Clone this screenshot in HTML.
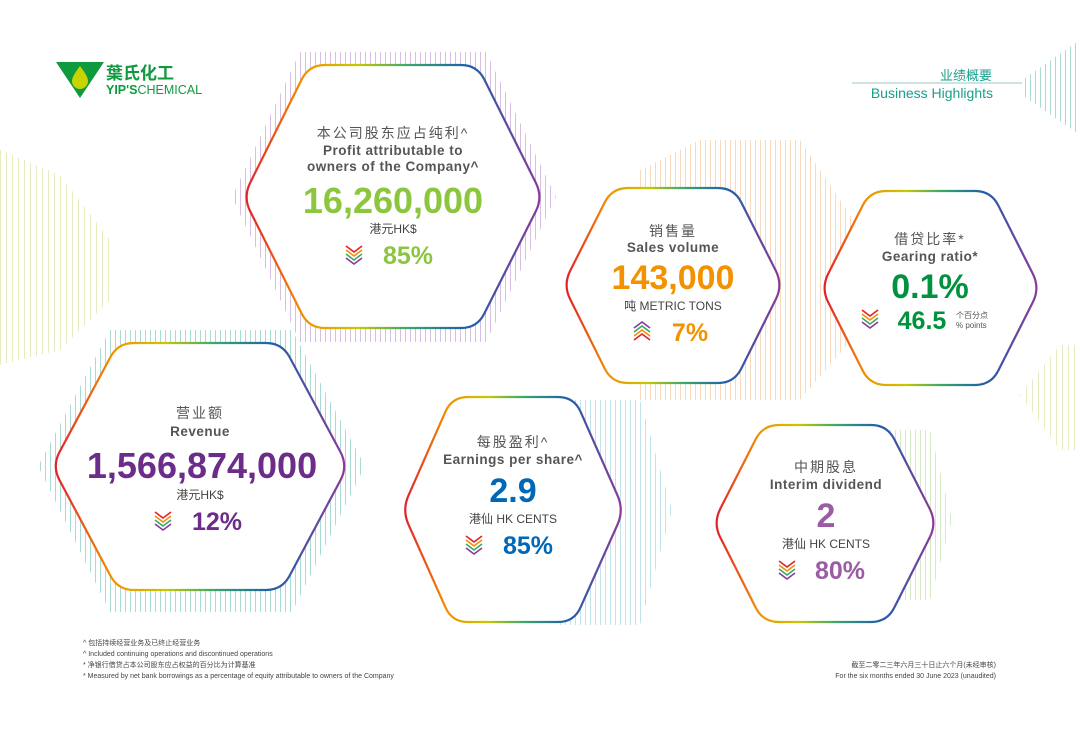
<!DOCTYPE html>
<html><head><meta charset="utf-8"><style>
body{margin:0;background:#fff}
svg{display:block}
text{font-family:"Liberation Sans","Noto Sans CJK SC",sans-serif}
.cn{fill:#555;font-size:14px;letter-spacing:2px}
.en{fill:#555;font-size:13.5px;font-weight:bold;letter-spacing:0.5px}
.u{fill:#444;font-size:12px}
</style></head><body>
<svg id="s" width="1080" height="737" viewBox="0 0 1080 737">
<defs>
<linearGradient id="g" x1="0" x2="1" y1="0" y2="0">
<stop offset="0" stop-color="#e2222a"/><stop offset="0.2" stop-color="#f39200"/><stop offset="0.38" stop-color="#c8c800"/><stop offset="0.55" stop-color="#3aa86b"/><stop offset="0.75" stop-color="#1f5fa8"/><stop offset="1" stop-color="#8a3a9a"/>
</linearGradient>
<pattern id="pP" width="5" height="10" patternUnits="userSpaceOnUse"><rect width="1" height="10" fill="#d8bde4"/></pattern>
<pattern id="pT" width="5" height="10" patternUnits="userSpaceOnUse"><rect width="1" height="10" fill="#a8dbd4"/></pattern>
<pattern id="pO" width="5" height="10" patternUnits="userSpaceOnUse"><rect width="1" height="10" fill="#f8d9bb"/></pattern>
<pattern id="pY" width="6" height="10" patternUnits="userSpaceOnUse"><rect width="1" height="10" fill="#e3edbd"/></pattern>
<pattern id="pB" width="5" height="10" patternUnits="userSpaceOnUse"><rect width="1" height="10" fill="#c0e3ee"/></pattern>
<pattern id="pG" width="5" height="10" patternUnits="userSpaceOnUse"><rect width="1" height="10" fill="#d3eac2"/></pattern>
<g id="dn"><polyline points="0,0 8,6 16,0" fill="none" stroke="#e2222a" stroke-width="1.6"/><polyline points="0,4 8,10 16,4" fill="none" stroke="#f39200" stroke-width="1.6"/><polyline points="0,8 8,14 16,8" fill="none" stroke="#3aa86b" stroke-width="1.6"/><polyline points="0,12 8,18 16,12" fill="none" stroke="#8a3a9a" stroke-width="1.6"/></g>
<g id="up"><polyline points="0,18 8,12 16,18" fill="none" stroke="#e2222a" stroke-width="1.6"/><polyline points="0,14 8,8 16,14" fill="none" stroke="#f39200" stroke-width="1.6"/><polyline points="0,10 8,4 16,10" fill="none" stroke="#3aa86b" stroke-width="1.6"/><polyline points="0,6 8,0 16,6" fill="none" stroke="#8a3a9a" stroke-width="1.6"/></g>
</defs>

<!-- stripe halos -->
<polygon points="0,150 60,175 110,240 110,300 60,350 0,365" fill="url(#pY)"/>
<polygon points="232,197 300,52 486,52 556,197 486,342 300,342" fill="url(#pP)"/>
<polygon points="38,466 110,330 292,330 365,466 292,612 110,612" fill="url(#pT)"/>
<polygon points="640,170 700,140 800,140 860,230 860,330 800,400 640,400" fill="url(#pO)"/>
<polygon points="560,400 640,400 672,510 640,625 560,625" fill="url(#pB)"/>
<polygon points="840,430 930,430 952,520 930,600 840,600" fill="url(#pG)"/>
<polygon points="1022,80 1080,40 1080,135 1022,95" fill="url(#pT)"/>
<polygon points="1020,395 1060,345 1080,345 1080,450 1060,450" fill="url(#pY)"/>

<!-- hexagons -->
<g fill="#fff" stroke="url(#g)" stroke-width="2.2" stroke-linejoin="round">
<polygon class="hx" points="243,197 309,65 477,65 543,197 477,328 309,328"/>
<polygon class="hx" points="52,466 118,343 282,343 348,466 282,590 118,590"/>
<polygon class="hx" points="563,285 612,188 734,188 783,285 734,383 612,383"/>
<polygon class="hx" points="821,288 870,191 991,191 1040,288 991,385 870,385"/>
<polygon class="hx" points="402,510 452,397 574,397 624,510 574,622 452,622"/>
<polygon class="hx" points="713,523 763,425 887,425 937,523 887,622 763,622"/>
</g>

<!-- logo -->
<polygon points="56,62 104,62 80,98" fill="#0e9a3d"/>
<path d="M80,66 C74,74 72,78 72,81 a8,8 0 0 0 16,0 C88,78 86,74 80,66Z" fill="#c8d400"/>
<text x="106" y="79" font-size="17" fill="#0e9a3d" font-weight="bold">葉氏化工</text>
<text x="106" y="94" font-size="12.5" fill="#0e9a3d" font-weight="bold">YIP'S<tspan font-weight="normal">CHEMICAL</tspan></text>

<!-- title -->
<text x="992" y="80" text-anchor="end" font-size="13" fill="#1a9e8b">业绩概要</text>
<line x1="852" y1="83" x2="1022" y2="83" stroke="#9cc9c0" stroke-width="1"/>
<text x="993" y="98" text-anchor="end" font-size="14" fill="#1a9e8b">Business Highlights</text>

<g text-anchor="middle">
<text x="393" y="138" class="cn">本公司股东应占纯利^</text>
<text x="393" y="155" class="en">Profit attributable to</text>
<text x="393" y="171" class="en">owners of the Company^</text>
<text x="393" y="213" font-size="36" font-weight="bold" fill="#8cc63f">16,260,000</text>
<text x="393" y="233" class="u">港元HK$</text>
<text x="408" y="264" font-size="25" font-weight="bold" fill="#8cc63f">85%</text>
</g>
<use href="#dn" x="346" y="246"/>

<g text-anchor="middle">
<text x="200" y="418" class="cn">营业额</text>
<text x="200" y="436" class="en">Revenue</text>
<text x="202" y="478" font-size="36" font-weight="bold" fill="#6b2c8a">1,566,874,000</text>
<text x="200" y="499" class="u">港元HK$</text>
<text x="217" y="530" font-size="25" font-weight="bold" fill="#6b2c8a">12%</text>
</g>
<use href="#dn" x="155" y="512"/>

<g text-anchor="middle">
<text x="673" y="236" class="cn">销售量</text>
<text x="673" y="252" class="en">Sales volume</text>
<text x="673" y="289" font-size="34" font-weight="bold" fill="#f39200">143,000</text>
<text x="673" y="310" class="u">吨 METRIC TONS</text>
<text x="690" y="341" font-size="25" font-weight="bold" fill="#f39200">7%</text>
</g>
<use href="#up" x="634" y="322"/>

<g text-anchor="middle">
<text x="930" y="244" class="cn">借贷比率*</text>
<text x="930" y="261" class="en">Gearing ratio*</text>
<text x="930" y="298" font-size="34" font-weight="bold" fill="#00923f">0.1%</text>
<text x="922" y="329" font-size="25" font-weight="bold" fill="#00923f">46.5</text>
</g>
<text x="956" y="318" font-size="8" fill="#555">个百分点</text>
<text x="956" y="328" font-size="8" fill="#555">% points</text>
<use href="#dn" x="862" y="310"/>

<g text-anchor="middle">
<text x="513" y="447" class="cn">每股盈利^</text>
<text x="513" y="464" class="en">Earnings per share^</text>
<text x="513" y="502" font-size="34" font-weight="bold" fill="#0068b7">2.9</text>
<text x="513" y="523" class="u">港仙 HK CENTS</text>
<text x="528" y="554" font-size="25" font-weight="bold" fill="#0068b7">85%</text>
</g>
<use href="#dn" x="466" y="536"/>

<g text-anchor="middle">
<text x="826" y="472" class="cn">中期股息</text>
<text x="826" y="489" class="en">Interim dividend</text>
<text x="826" y="527" font-size="34" font-weight="bold" fill="#9b5ca3">2</text>
<text x="826" y="548" class="u">港仙 HK CENTS</text>
<text x="840" y="579" font-size="25" font-weight="bold" fill="#9b5ca3">80%</text>
</g>
<use href="#dn" x="779" y="561"/>

<g font-size="7" fill="#444">
<text x="83" y="645">^ 包括持续经营业务及已终止经营业务</text>
<text x="83" y="656">^ Included continuing operations and discontinued operations</text>
<text x="83" y="667">* 净银行借贷占本公司股东应占权益的百分比为计算基准</text>
<text x="83" y="678">* Measured by net bank borrowings as a percentage of equity attributable to owners of the Company</text>
<text x="996" y="667" text-anchor="end">截至二零二三年六月三十日止六个月(未经审核)</text>
<text x="996" y="678" text-anchor="end">For the six months ended 30 June 2023 (unaudited)</text>
</g>
</svg>
<script>
document.querySelectorAll('polygon.hx').forEach(function(p){
  var pts=p.getAttribute('points').trim().split(/\s+/).map(function(s){return s.split(',').map(Number)});
  var n=pts.length,r=16,d='';
  for(var i=0;i<n;i++){
    var v=pts[i],a=pts[(i+n-1)%n],b=pts[(i+1)%n];
    var la=Math.hypot(a[0]-v[0],a[1]-v[1]),lb=Math.hypot(b[0]-v[0],b[1]-v[1]);
    var p1=[v[0]+(a[0]-v[0])*r/la,v[1]+(a[1]-v[1])*r/la];
    var p2=[v[0]+(b[0]-v[0])*r/lb,v[1]+(b[1]-v[1])*r/lb];
    d+=(i?'L':'M')+p1[0].toFixed(1)+','+p1[1].toFixed(1)+'Q'+v[0]+','+v[1]+' '+p2[0].toFixed(1)+','+p2[1].toFixed(1);
  }
  d+='Z';
  var np=document.createElementNS('http://www.w3.org/2000/svg','path');
  np.setAttribute('d',d);
  p.parentNode.replaceChild(np,p);
});
</script>
</body></html>
